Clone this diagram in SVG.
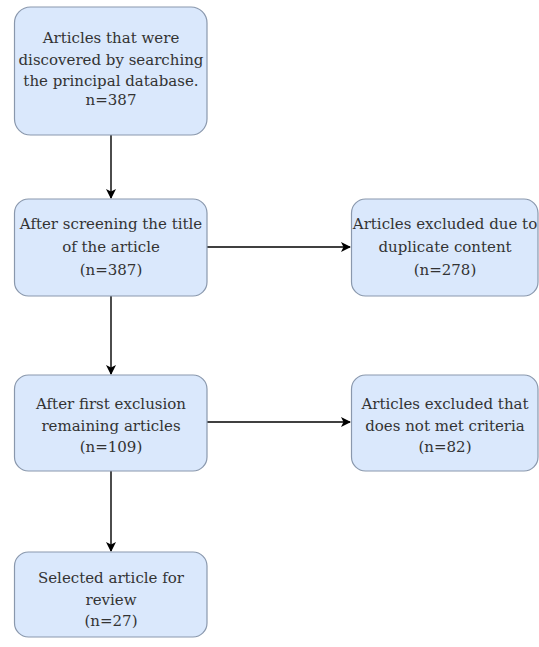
<svg xmlns="http://www.w3.org/2000/svg" width="539" height="647" viewBox="0 0 539 647">
<defs>
<marker id="ah" markerWidth="10" markerHeight="10" refX="9" refY="5" orient="auto" markerUnits="userSpaceOnUse">
<path d="M0,0 L10,5 L0,10 L2.5,5 z" fill="#000"/>
</marker>
<style>
.box{fill:#dae8fc;stroke:#8a98ad;stroke-width:1.2}
.c{stroke:#000;stroke-width:1.4;fill:none;marker-end:url(#ah)}
</style>
</defs>
<rect width="539" height="647" fill="#fff"/>
<g id="connectors">
<line class="c" x1="111" y1="135" x2="111" y2="198"/>
<line class="c" x1="111" y1="296" x2="111" y2="374"/>
<line class="c" x1="111" y1="471" x2="111" y2="551"/>
<line class="c" x1="207" y1="247" x2="350" y2="247"/>
<line class="c" x1="207" y1="422" x2="350" y2="422"/>
</g>
<g font-family="DejaVu Serif, serif" font-size="15" fill="#333" text-anchor="middle">
<g id="n1">
<rect class="box" x="14.5" y="7" width="192.5" height="128" rx="16"/>
<text x="111" y="43">Articles that were</text>
<text x="111" y="65">discovered by searching</text>
<text x="111" y="86">the principal database.</text>
<text x="111" y="105">n=387</text>
</g>
<g id="n2">
<rect class="box" x="14.5" y="199" width="192.5" height="97" rx="14"/>
<text x="111" y="229">After screening the title</text>
<text x="111" y="252">of the article</text>
<text x="111" y="275">(n=387)</text>
</g>
<g id="n3">
<rect class="box" x="351.5" y="199" width="186.5" height="97" rx="14"/>
<text x="445" y="229">Articles excluded due to</text>
<text x="445" y="252">duplicate content</text>
<text x="445" y="275">(n=278)</text>
</g>
<g id="n4">
<rect class="box" x="14.5" y="375" width="192.5" height="96" rx="14"/>
<text x="111" y="409">After first exclusion</text>
<text x="111" y="431">remaining articles</text>
<text x="111" y="452">(n=109)</text>
</g>
<g id="n5">
<rect class="box" x="351.5" y="375" width="186.5" height="96" rx="14"/>
<text x="445" y="409">Articles excluded that</text>
<text x="445" y="431">does not met criteria</text>
<text x="445" y="452">(n=82)</text>
</g>
<g id="n6">
<rect class="box" x="14.5" y="552" width="192.5" height="85" rx="14"/>
<text x="111" y="583">Selected article for</text>
<text x="111" y="605">review</text>
<text x="111" y="626">(n=27)</text>
</g>
</g>
</svg>
